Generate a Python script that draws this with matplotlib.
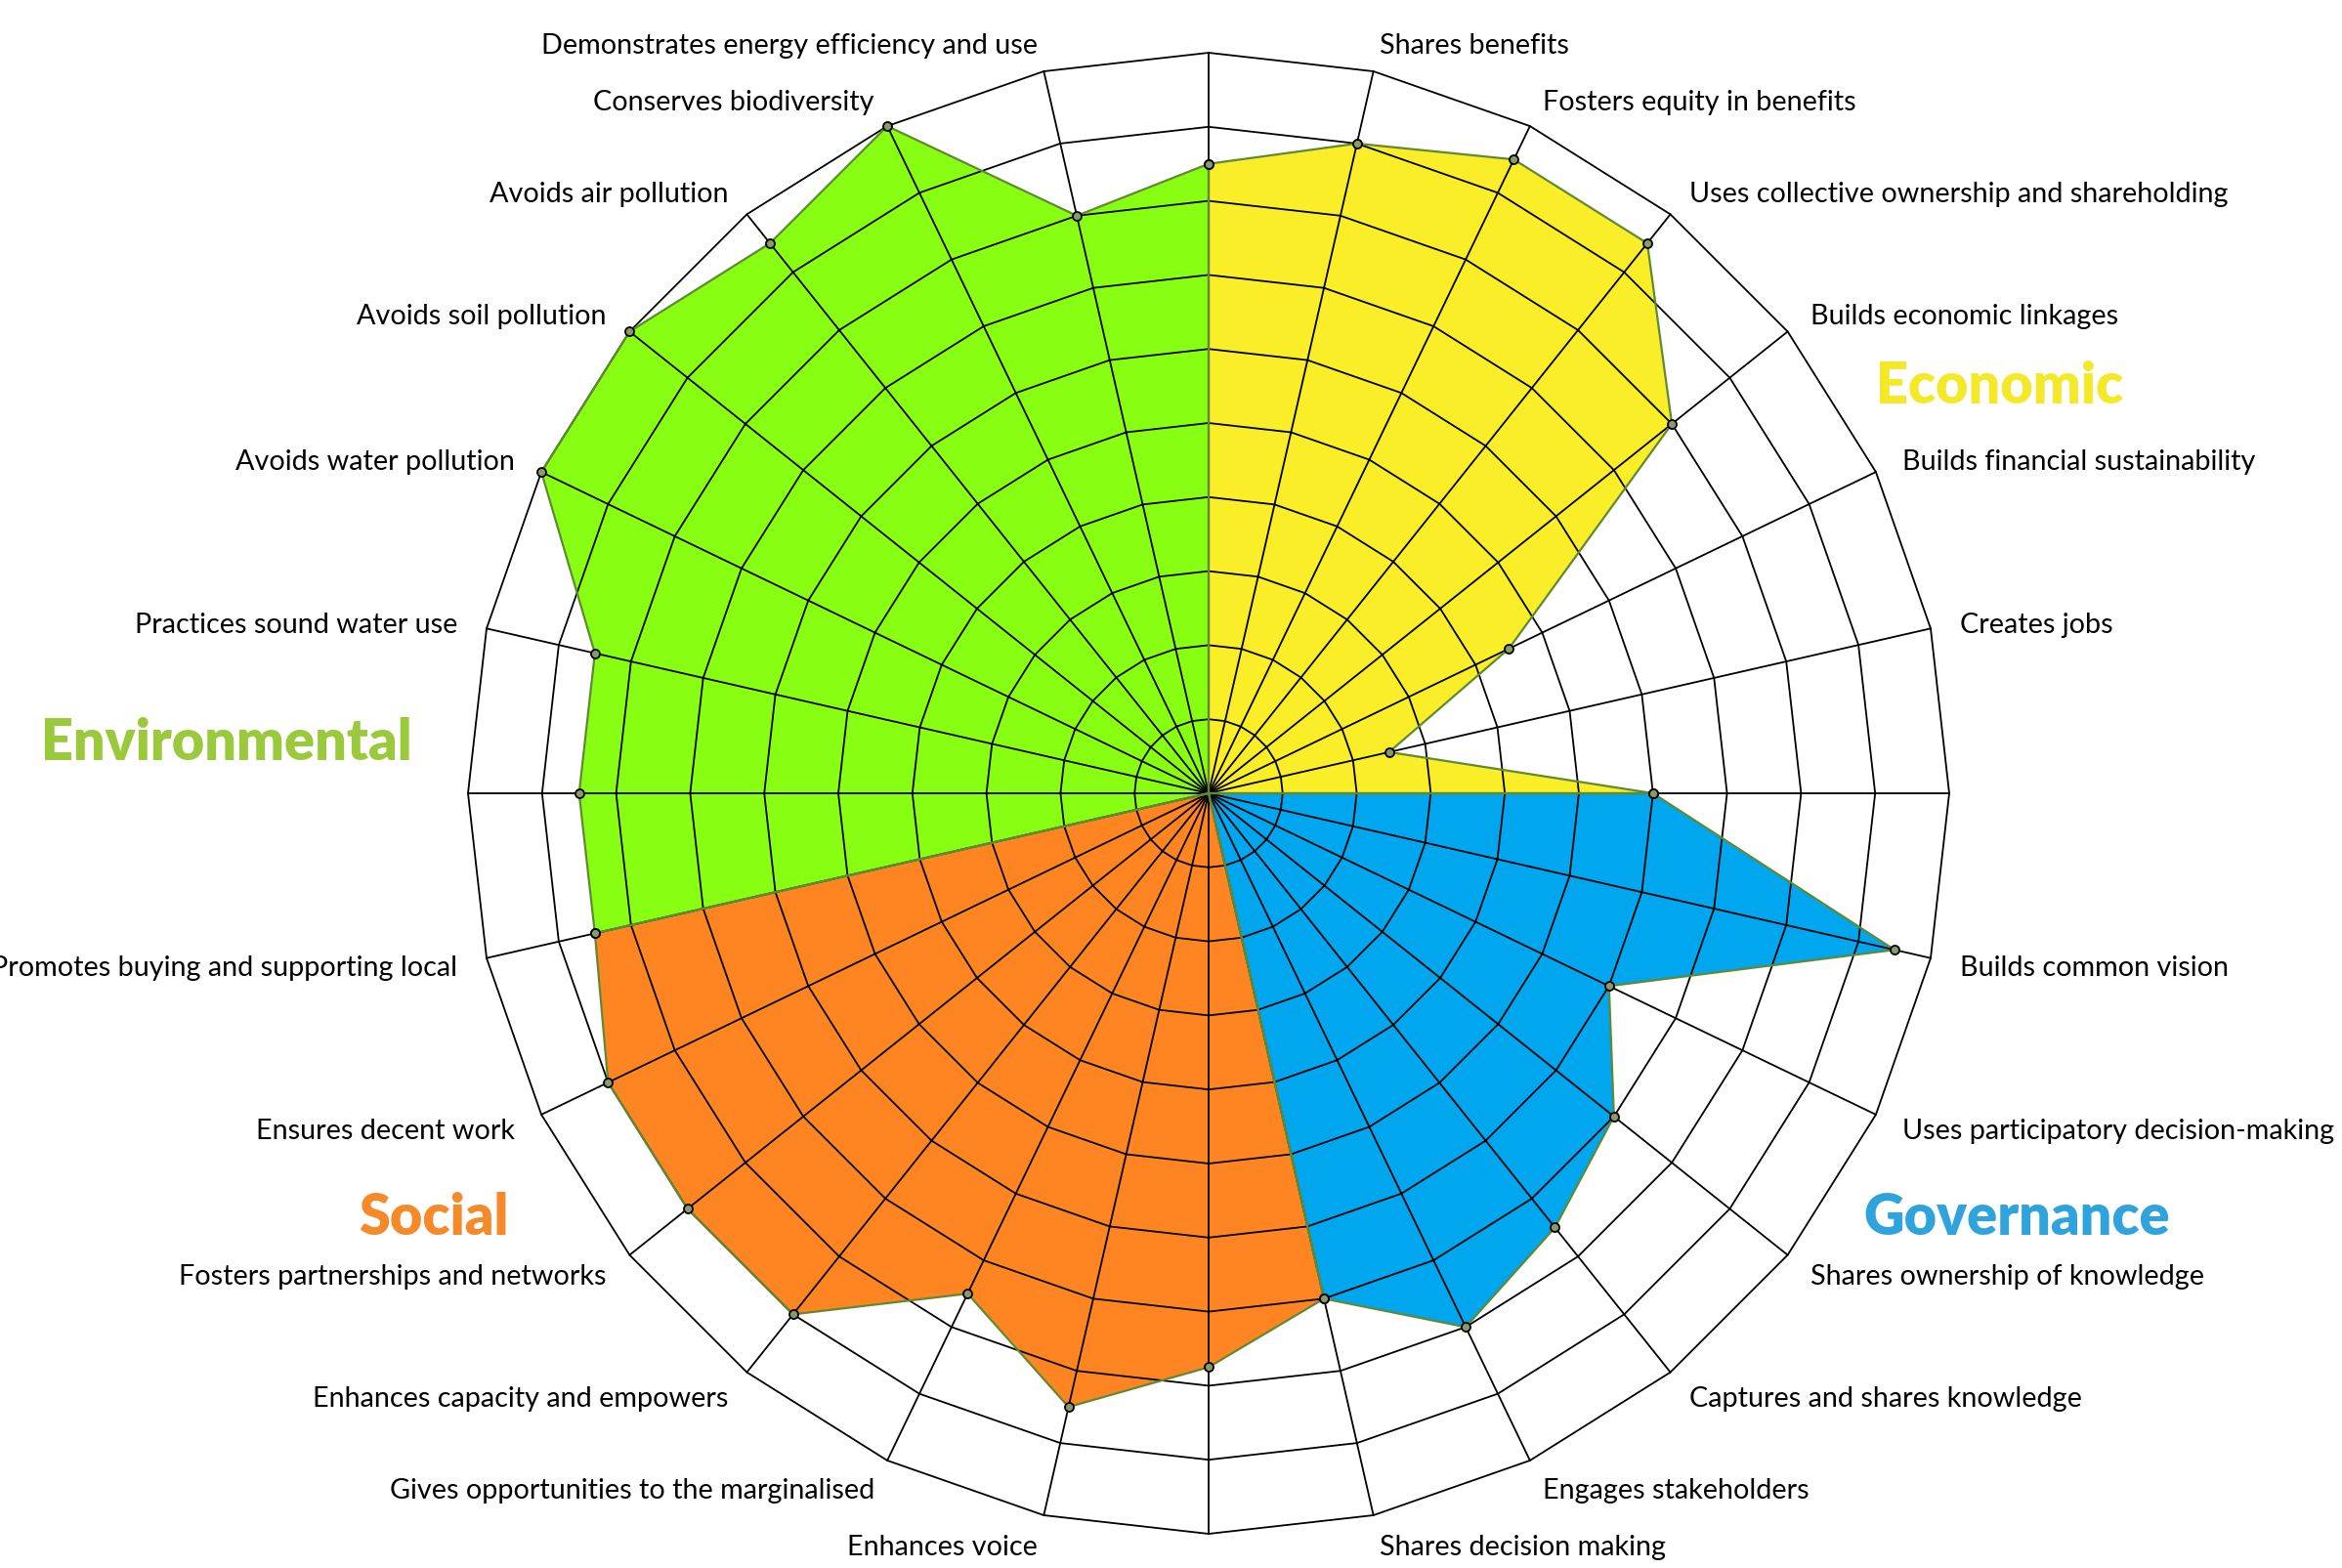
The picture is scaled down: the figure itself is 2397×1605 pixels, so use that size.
import numpy as np
import matplotlib.pyplot as plt

# spoke labels, clockwise from the top (empty = category separator spoke)
labels = ['', 'Shares benefits', 'Fosters equity in benefits',
          'Uses collective ownership and shareholding', 'Builds economic linkages',
          'Builds financial sustainability', 'Creates jobs',
          '', 'Builds common vision', 'Uses participatory decision-making',
          'Shares ownership of knowledge', 'Captures and shares knowledge',
          'Engages stakeholders', 'Shares decision making',
          '', 'Enhances voice', 'Gives opportunities to the marginalised',
          'Enhances capacity and empowers', 'Fosters partnerships and networks',
          'Ensures decent work', 'Promotes buying and supporting local',
          '', 'Practices sound water use', 'Avoids water pollution',
          'Avoids soil pollution', 'Avoids air pollution', 'Conserves biodiversity',
          'Demonstrates energy efficiency and use']

# series: spoke index -> score (0-10)
economic_idx = [0, 1, 2, 3, 4, 5, 6, 7]
economic_vals = [8.5, 9, 9.5, 9.5, 8, 4.5, 2.5, 6]
governance_idx = [7, 8, 9, 10, 11, 12, 13]
governance_vals = [6, 9.5, 6, 7, 7.5, 8, 7]
social_idx = [13, 14, 15, 16, 17, 18, 19, 20]
social_vals = [7, 7.75, 8.5, 7.5, 9, 9, 9, 8.5]
environmental_idx = [20, 21, 22, 23, 24, 25, 26, 27, 28]
environmental_vals = [8.5, 8.5, 8.5, 10, 10, 9.5, 10, 8, 8.5]

n = len(labels)
rmax = 10
theta = 2 * np.pi * np.arange(n + 1) / n

W, H = 2397, 1605
fig = plt.figure(figsize=(W / 100, H / 100), dpi=100)
cx, cy, R = 1237, 812, 758
ax = fig.add_axes([(cx - R) / W, (H - cy - R) / H, 2 * R / W, 2 * R / H], polar=True)
ax.set_theta_zero_location('N')
ax.set_theta_direction(-1)
ax.set_ylim(0, rmax)
ax.set_axis_off()

series = [
    (economic_idx, economic_vals, '#faee28'),
    (governance_idx, governance_vals, '#00a6ee'),
    (social_idx, social_vals, '#ff8522'),
    (environmental_idx, environmental_vals, '#88ff12'),
]

for idx, vals, col in series:
    t = [theta[idx[0]]] + [theta[i] for i in idx] + [theta[idx[-1]]]
    r = [0] + list(vals) + [0]
    ax.fill(t, r, color=col, lw=0, zorder=1, clip_on=False)
    ax.plot(t, r, color='#5f8a32', lw=1.6, zorder=3, clip_on=False)

# polygon grid
for k in range(1, rmax + 1):
    ax.plot(theta, [k] * (n + 1), color='black', lw=1.3, zorder=2, clip_on=False)
for i in range(n):
    ax.plot([theta[i], theta[i]], [0, rmax], color='black', lw=1.3, zorder=2, clip_on=False)

for idx, vals, col in series:
    ax.plot([theta[i] for i in idx], vals, 'o', ms=6.5, mfc='#8a9a6a', mec='black',
            mew=1.3, ls='none', zorder=4, clip_on=False)

# spoke labels
for i, lab in enumerate(labels):
    if not lab:
        continue
    ha = 'left' if i < n / 2 else 'right'
    ax.annotate(lab, (theta[i], rmax + 0.4), xytext=(0, -2.5), textcoords='offset points',
                ha=ha, va='center', fontsize=20.7, family='Lato', color='black',
                annotation_clip=False)

# category titles
cats = [('Economic', 1920, 413, '#f3e928'),
        ('Environmental', 42, 778, '#9bc93c'),
        ('Social', 367, 1264, '#f6892a'),
        ('Governance', 1907, 1264, '#2fa4dc')]
for name, x, y, col in cats:
    fig.text(x / W, 1 - y / H, name, ha='left', va='baseline', fontsize=41.5,
             fontweight='heavy', family='Lato', color=col)

fig.savefig('out.png', dpi=100)
